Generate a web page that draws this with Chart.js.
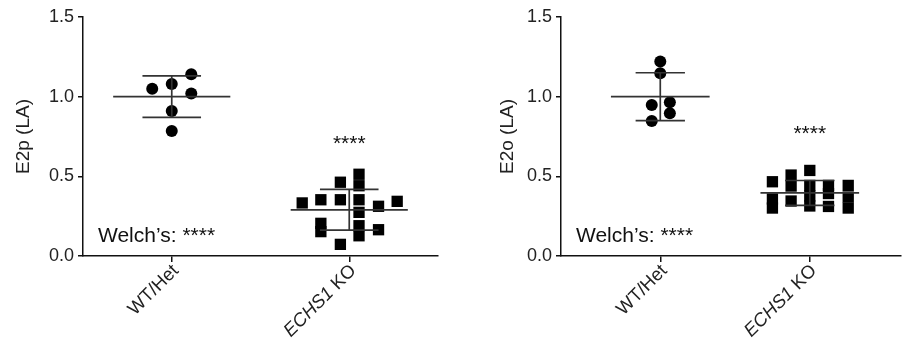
<!DOCTYPE html>
<html>
<head>
<meta charset="utf-8">
<script src="https://cdn.jsdelivr.net/npm/chart.js@4.4.0/dist/chart.umd.min.js"></script>
<style>
  html, body { margin: 0; padding: 0; background: #fff; }
  #wrap { position: relative; width: 909px; height: 346px; }
  canvas { position: absolute; top: 0; }
</style>
</head>
<body>
<div id="wrap">
  <canvas id="chartE2p" width="455" height="346" style="left:0"></canvas>
  <canvas id="chartE2o" width="454" height="346" style="left:455px"></canvas>
</div>
<script>
const groups = ["WT/Het", "ECHS1 KO"];
const groupItalic = ["", "ECHS1"];   // part of the label set in italics
const yTicks = [0.0, 0.5, 1.0, 1.5];

// E2p (LA)
const e2pWtValues = [1.05, 1.08, 1.14, 1.02, 0.91, 0.785];
const e2pWtJitter = [-0.11, 0, 0.11, 0.11, 0, 0];
const e2pKoValues = [0.463, 0.513, 0.441, 0.333, 0.353, 0.353, 0.353, 0.312,
                     0.343, 0.274, 0.205, 0.153, 0.190, 0.127, 0.165, 0.073];
const e2pKoJitter = [-0.05, 0.055, 0.055, -0.265, -0.16, -0.05, 0.055, 0.165,
                     0.27, 0.055, -0.16, -0.16, 0.055, 0.055, 0.165, -0.05];
const e2pMean = [1.00, 0.29];
const e2pSd = [0.13, 0.128];

// E2o (LA)
const e2oWtValues = [1.22, 1.147, 0.948, 0.965, 0.896, 0.847];
const e2oWtJitter = [0, 0, -0.057, 0.064, 0.064, -0.057];
const e2oKoValues = [0.466, 0.358, 0.301, 0.508, 0.439, 0.345, 0.537, 0.443,
                     0.377, 0.314, 0.443, 0.392, 0.311, 0.443, 0.370, 0.301];
const e2oKoJitter = [-0.25, -0.25, -0.25, -0.125, -0.125, -0.125, 0, 0,
                     0, 0, 0.125, 0.125, 0.125, 0.257, 0.257, 0.257];
const e2oMean = [1.00, 0.396];
const e2oSd = [0.15, 0.078];

const FONT = '"Liberation Sans", Arial, sans-serif';

function toPoints(center, values, jitter) {
    return values.map((v, i) => ({x: center + jitter[i], y: v}));
}

// mean line, sd caps and the vertical sd bar, with gaps between
function errorBars(means, sds) {
    let pts = [];
    means.forEach((m, i) => {
        let s = sds[i];
        pts.push({x: i - 0.33, y: m}, {x: i + 0.33, y: m}, {x: i, y: null});
        pts.push({x: i - 0.165, y: m + s}, {x: i + 0.165, y: m + s}, {x: i, y: null});
        pts.push({x: i - 0.165, y: m - s}, {x: i + 0.165, y: m - s}, {x: i, y: null});
        pts.push({x: i, y: m - s}, {x: i, y: m + s}, {x: i, y: null});
    });
    return pts;
}

const textPlugin = {
    id: 'sigText',
    afterDatasetsDraw(chart, args, opts) {
        const {ctx, chartArea, scales} = chart;
        ctx.save();
        ctx.fillStyle = '#111';
        ctx.font = '21px ' + FONT;
        ctx.textBaseline = 'middle';
        ctx.textAlign = 'left';
        ctx.fillText("Welch\u2019s: ****", chartArea.left + 15, scales.y.getPixelForValue(0.125));
        ctx.textAlign = 'center';
        ctx.fillText("****", scales.x.getPixelForValue(1), scales.y.getPixelForValue(opts.starY));

        // rotated group labels, gene name in italics
        ctx.fillStyle = '#222';
        ctx.textAlign = 'right';
        groups.forEach((g, i) => {
            let px = scales.x.getPixelForValue(i) + 4;
            let py = chartArea.bottom + 12;
            let it = groupItalic[i];
            let rest = g.slice(it.length);
            ctx.save();
            ctx.translate(px, py);
            ctx.rotate(-Math.PI / 4);
            ctx.font = '18.5px ' + FONT;
            ctx.fillText(rest, 0, 0);
            if (it) {
                let w = ctx.measureText(rest).width;
                ctx.font = 'italic 18.5px ' + FONT;
                ctx.fillText(it, -w, 0);
            }
            ctx.restore();
        });
        ctx.restore();
    }
};

function drawPanel(id, cfg) {
    "use strict";
    let ctx = document.getElementById(id);
    return new Chart(ctx, {
        type: 'scatter',
        data: {
            datasets: [{
                type: 'line',
                data: errorBars(cfg.mean, cfg.sd),
                borderColor: '#333',
                borderWidth: 1.7,
                pointRadius: 0,
                spanGaps: false,
                fill: false,
                order: 0
            }, {
                data: toPoints(0, cfg.wt, cfg.wtJitter),
                pointStyle: 'circle',
                pointRadius: 6,
                backgroundColor: '#000',
                borderColor: '#000',
                borderWidth: 0,
                order: 1
            }, {
                data: toPoints(1, cfg.ko, cfg.koJitter),
                pointStyle: 'rect',
                pointRadius: 8,
                backgroundColor: '#000',
                borderColor: '#000',
                borderWidth: 0,
                order: 1
            }]
        },
        options: {
            responsive: false,
            animation: false,
            events: [],
            layout: {padding: {top: 17, right: cfg.padRight, left: 0, bottom: 0}},
            plugins: {
                legend: {display: false},
                tooltip: {enabled: false},
                sigText: {starY: cfg.starY}
            },
            scales: {
                x: {
                    type: 'linear',
                    min: cfg.xMin,
                    max: cfg.xMax,
                    afterBuildTicks: (s) => { s.ticks = groups.map((g, i) => ({value: i})); },
                    afterFit: (s) => { s.height = 90; },
                    grid: {display: true, drawOnChartArea: false, drawTicks: true,
                           tickLength: 6, color: '#111', lineWidth: 1.5},
                    border: {display: true, color: '#111', width: 1.5},
                    ticks: {display: false}
                },
                y: {
                    min: 0,
                    max: 1.5,
                    afterBuildTicks: (s) => { s.ticks = yTicks.map(v => ({value: v})); },
                    afterFit: (s) => { s.width = cfg.yWidth; },
                    grid: {display: true, drawOnChartArea: false, drawTicks: true,
                           tickLength: 5, color: '#111', lineWidth: 1.5},
                    border: {display: true, color: '#111', width: 1.5},
                    ticks: {
                        padding: 4,
                        color: '#222',
                        font: {family: FONT, size: 18},
                        callback: (v) => v.toFixed(1)
                    },
                    title: {
                        display: true,
                        text: cfg.title,
                        color: '#222',
                        font: {family: FONT, size: 19},
                        padding: {top: cfg.titlePad, bottom: 0}
                    }
                }
            }
        },
        plugins: [textPlugin]
    });
}

drawPanel('chartE2p', {
    title: 'E2p (LA)', wt: e2pWtValues, wtJitter: e2pWtJitter,
    ko: e2pKoValues, koJitter: e2pKoJitter, mean: e2pMean, sd: e2pSd,
    xMin: -0.5, xMax: 1.5, yWidth: 83, padRight: 17, titlePad: 12, starY: 0.70
});
drawPanel('chartE2o', {
    title: 'E2o (LA)', wt: e2oWtValues, wtJitter: e2oWtJitter,
    ko: e2oKoValues, koJitter: e2oKoJitter, mean: e2oMean, sd: e2oSd,
    xMin: -0.664, xMax: 1.61, yWidth: 106, padRight: 1, titlePad: 41, starY: 0.765
});
</script>
</body>
</html>
